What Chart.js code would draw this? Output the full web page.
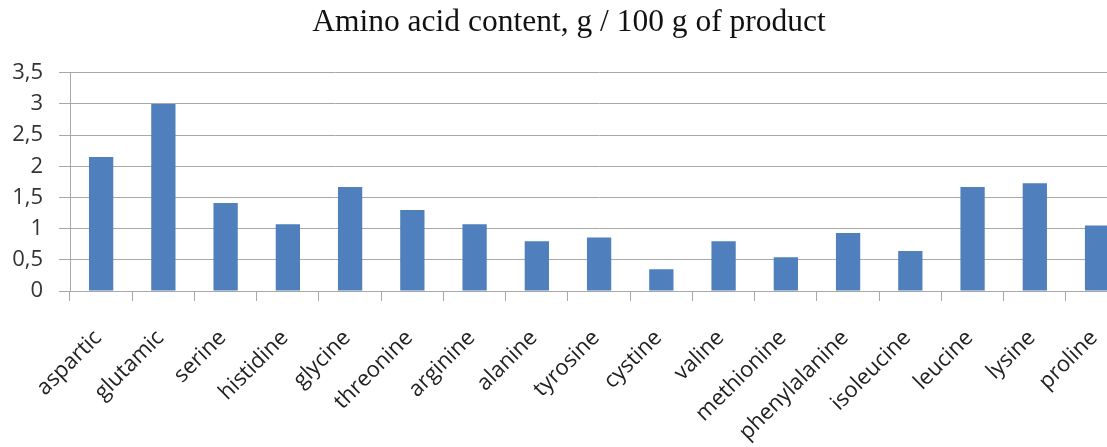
<!DOCTYPE html>
<html>
<head>
<meta charset="utf-8">
<script src="https://cdn.jsdelivr.net/npm/chart.js@4/dist/chart.umd.min.js"></script>
<style>
  html, body { margin: 0; padding: 0; background: #fff; overflow: hidden; }
  #wrap { width: 1140px; height: 447px; }
</style>
</head>
<body>
<div id="wrap"><canvas id="chart" width="1140" height="447"></canvas></div>
<script>
// Amino acids and their content, g per 100 g of product
const aminoAcids = [
  'aspartic', 'glutamic', 'serine', 'histidine', 'glycine', 'threonine',
  'arginine', 'alanine', 'tyrosine', 'cystine', 'valine', 'methionine',
  'phenylalanine', 'isoleucine', 'leucine', 'lysine', 'proline'
];
const content = [
  2.15, 3.0, 1.41, 1.07, 1.67, 1.3,
  1.07, 0.8, 0.86, 0.35, 0.8, 0.54,
  0.93, 0.64, 1.67, 1.73, 1.05
];
const yMin = 0;
const yMax = 3.5;
const yStep = 0.5;
const titleText = 'Amino acid content, g / 100 g of product';

const gridColor = '#A8A8A8';
const labelFont = { family: 'Open Sans', size: 22 };

new Chart(document.getElementById('chart'), {
  type: 'bar',
  data: {
    labels: aminoAcids,
    datasets: [{
      data: content,
      backgroundColor: '#4F7FBC',
      borderWidth: 0,
      categoryPercentage: 1,
      barPercentage: 0.39
    }]
  },
  options: {
    responsive: false,
    animation: false,
    layout: { padding: { left: 7, right: 9, top: 0, bottom: 0 } },
    plugins: {
      legend: { display: false },
      tooltip: { enabled: false },
      title: {
        display: true,
        text: titleText,
        color: '#111',
        font: { family: 'Liberation Serif', size: 31.5, weight: 'normal' },
        padding: { top: 4, bottom: 31 }
      }
    },
    scales: {
      x: {
        grid: {
          display: true,
          drawOnChartArea: false,
          drawTicks: true,
          tickLength: 10,
          color: gridColor,
          offset: true
        },
        border: { color: gridColor, width: 1 },
        ticks: {
          color: '#222',
          font: labelFont,
          minRotation: 45,
          maxRotation: 45,
          autoSkip: false,
          padding: 24,
          labelOffset: -3
        },
        afterFit: (scale) => { scale.height = 156; }
      },
      y: {
        min: yMin,
        max: yMax,
        grid: {
          color: gridColor,
          lineWidth: 1,
          drawTicks: true,
          tickLength: 11
        },
        border: { color: gridColor, width: 1 },
        ticks: {
          stepSize: yStep,
          color: '#333',
          font: labelFont,
          padding: 16,
          callback: (v) => String(v).replace('.', ',')
        },
        afterFit: (scale) => { scale.width = 63; }
      }
    }
  }
});
</script>
</body>
</html>
